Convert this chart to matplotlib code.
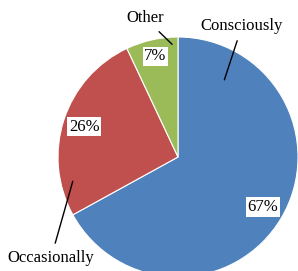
import numpy as np
import matplotlib
matplotlib.use("Agg")
import matplotlib.pyplot as plt

categories = ["Consciously", "Occasionally", "Other"]
shares = [67, 26, 7]
colors = ["#4F81BD", "#C0504D", "#9BBB59"]

plt.rcParams["font.family"] = ["Liberation Serif", "DejaVu Serif"]

fig = plt.figure(figsize=(2.98, 2.71), dpi=100)
ax = fig.add_axes([0, 0, 1, 1])
ax.set_xlim(0, 298)
ax.set_ylim(0, 271)
ax.axis("off")

cx, cy, R = 178, 114, 120
wedges, _, pcts = ax.pie(
    shares, colors=colors, startangle=90, counterclock=False,
    center=(cx, cy), radius=R, autopct="%d%%", pctdistance=0.82,
    wedgeprops=dict(edgecolor="white", linewidth=0.8),
    textprops=dict(fontsize=12, color="black"),
)
for t in pcts:
    t.set_bbox(dict(facecolor="white", edgecolor="none", pad=1.2))
# the small slice's label sits a bit further out
pcts[2].set_position((cx + 0.86 * R * np.cos(np.deg2rad(102.6)),
                      cy + 0.86 * R * np.sin(np.deg2rad(102.6))))

ax.set_xlim(0, 298)
ax.set_ylim(0, 271)
ax.set_aspect("auto")


def on_pie(angle, frac):
    a = np.deg2rad(angle)
    return cx + frac * R * np.cos(a), cy + frac * R * np.sin(a)


# leader line anchors (angle, radius fraction) and label positions
anchors = [(59, 0.75), (193, 0.9), (93, 0.94)]
label_pos = [(242, 245), (51, 13), (145, 253)]
for name, (ang, fr), pos in zip(categories, anchors, label_pos):
    ax.annotate(name, xy=on_pie(ang, fr), xytext=pos, ha="center", va="center",
                fontsize=12,
                arrowprops=dict(arrowstyle="-", color="black", lw=1.0,
                                shrinkA=3, shrinkB=0))

fig.savefig("out.png", dpi=100)
